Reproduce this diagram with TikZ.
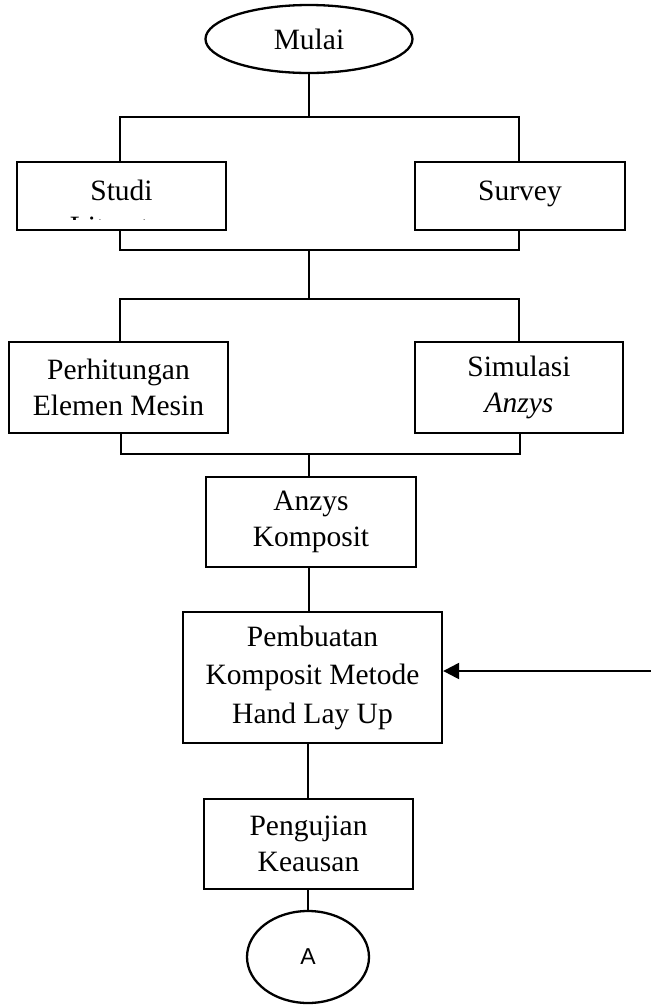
\documentclass[tikz,border=0pt]{standalone}
\usepackage{fontspec}
\setmainfont{Liberation Serif}
\newfontfamily\sansA{Liberation Sans}
\usetikzlibrary{arrows.meta,shapes.geometric}
\begin{document}
\begin{tikzpicture}[x=1pt,y=-1pt,
  txt/.style={font=\fontsize{29.5}{36}\selectfont},
  box/.style={draw, rectangle, inner sep=0pt, align=center, line width=2.3pt, font=\fontsize{29.5}{36}\selectfont},
  conn/.style={line width=2.3pt},
  arr/.style={line width=2.3pt, -{Triangle[length=16pt,width=16pt]}}
]
\useasboundingbox (0,0) rectangle (651,1005);

% start
\node[draw, ellipse, line width=2.3pt, minimum width=207pt, minimum height=68pt, inner sep=0pt, txt] (mulai) at (309,39) {Mulai};

% first row
\node[box, minimum width=209pt, minimum height=68pt] (studi) at (121.5,196) {};
\node[txt, anchor=base, inner sep=0pt] (studitxt) at (121.5,200) {Studi};
\begin{scope}
  \clip (20,205) rectangle (224,219.5);
  \node[txt, anchor=base, inner sep=0pt] (littxt) at (121.5,236) {Literatur};
\end{scope}
\node[box, minimum width=210pt, minimum height=68pt, text height=20pt, text depth=12pt] (survey) at (520,196) {Survey};

% second row
\node[box, minimum width=219pt, minimum height=91pt] (perh) at (118.5,387.5) {Perhitungan\\Elemen Mesin};
\node[box, minimum width=208pt, minimum height=91pt] (sim) at (519,387.5) {Simulasi\\\textit{Anzys}};

% chain
\node[box, minimum width=210pt, minimum height=90pt] (anzys) at (311,522) {Anzys\\Komposit};
\node[box, minimum width=259pt, minimum height=131pt, font=\fontsize{29.5}{38.5}\selectfont] (pemb) at (312.5,677.5) {Pembuatan\\Komposit Metode\\Hand Lay Up};
\node[box, minimum width=209pt, minimum height=90pt] (peng) at (308.5,844) {Pengujian\\Keausan};
\node[draw, ellipse, line width=2.3pt, minimum width=122pt, minimum height=92pt, inner sep=0pt, font=\sansA\fontsize{23}{28}\selectfont] (conA) at (308,957) {A};

% junction coordinates
\coordinate (t1L) at (120,117);
\coordinate (t1R) at (519,117);
\coordinate (b1L) at (120,250);
\coordinate (b1R) at (519,250);
\coordinate (b1) at (309,250);
\coordinate (t2L) at (120,299);
\coordinate (t2R) at (519,299);
\coordinate (t2) at (309,299);
\coordinate (b2L) at (121,454);
\coordinate (b2R) at (520,454);
\coordinate (b2) at (309,454);
\coordinate (arrstart) at (651,671);

% connectors
\draw[conn] (mulai.south) -- (mulai.south |- t1L);
\draw[conn] (studi.north -| t1L) -- (t1L) -- (t1R) -- (survey.north -| t1R);
\draw[conn] (studi.south -| b1L) -- (b1L) -- (b1R) -- (survey.south -| b1R);
\draw[conn] (b1) -- (t2);
\draw[conn] (perh.north -| t2L) -- (t2L) -- (t2R) -- (sim.north -| t2R);
\draw[conn] (perh.south -| b2L) -- (b2L) -- (b2R) -- (sim.south -| b2R);
\draw[conn] (b2) -- (anzys.north -| b2);
\draw[conn] (anzys.south -| b2) -- (pemb.north -| b2);
\draw[conn] (pemb.south -| conA.north) -- (peng.north -| conA.north);
\draw[conn] (peng.south -| conA.north) -- (conA.north);
\draw[arr] (arrstart) -- (arrstart -| pemb.east);
\end{tikzpicture}
\end{document}
